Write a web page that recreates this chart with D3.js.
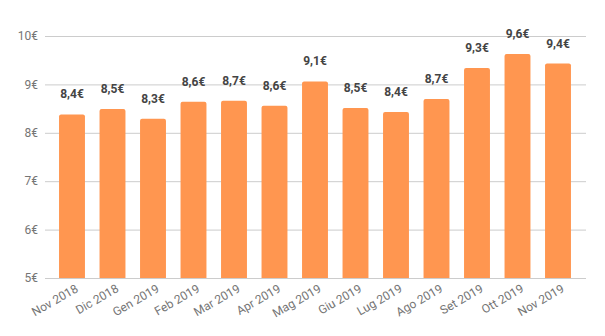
<!DOCTYPE html>
<html><head><meta charset="utf-8">
<script src="https://cdn.jsdelivr.net/npm/d3@7"></script>
<style>body{margin:0;background:#fff}svg{display:block;font-family:Roboto,sans-serif}</style>
</head><body>
<script>
const categories = ["Nov 2018","Dic 2018","Gen 2019","Feb 2019","Mar 2019","Apr 2019","Mag 2019","Giu 2019","Lug 2019","Ago 2019","Set 2019","Ott 2019","Nov 2019"];
const values = [8.38, 8.49, 8.29, 8.64, 8.66, 8.56, 9.06, 8.51, 8.43, 8.70, 9.34, 9.63, 9.43];
const yTicks = [5, 6, 7, 8, 9, 10];

const W = 605, H = 336;
const svg = d3.select("body").append("svg").attr("width", W).attr("height", H);
const x = d3.scaleBand().domain(categories).range([51.75, 578.25]).paddingInner(0.36).paddingOuter(0.18);
const y = d3.scaleLinear().domain([5, 10]).range([278, 36]);
const fmt = v => d3.format(".1f")(v).replace(".", ",") + "€";

// grid
svg.append("g").selectAll("line").data(yTicks).join("line")
  .attr("x1", 45).attr("x2", 586)
  .attr("y1", d => y(d) + 0.5).attr("y2", d => y(d) + 0.5)
  .attr("stroke", "#cccccc").attr("stroke-width", 1);

// y labels
svg.append("g").selectAll("text").data(yTicks).join("text")
  .attr("x", 38).attr("y", d => y(d)).attr("dy", "0.35em")
  .attr("text-anchor", "end").attr("font-size", 12).attr("fill", "#757575")
  .text(d => d + "€");

// bars
const r = 2;
svg.append("g").selectAll("path").data(values).join("path")
  .attr("fill", "#FF9650")
  .attr("d", (d, i) => {
    const x0 = x(categories[i]), w = x.bandwidth(), t = y(d), b = y(5);
    return `M${x0},${b}V${t + r}Q${x0},${t} ${x0 + r},${t}H${x0 + w - r}Q${x0 + w},${t} ${x0 + w},${t + r}V${b}Z`;
  });

// value labels
svg.append("g").selectAll("text").data(values).join("text")
  .attr("x", (d, i) => x(categories[i]) + x.bandwidth() / 2)
  .attr("y", d => y(d) - 16)
  .attr("text-anchor", "middle").attr("font-size", 12).attr("font-weight", "bold").attr("fill", "#444444")
  .text(fmt);

// x labels
svg.append("g").selectAll("text").data(categories).join("text")
  .attr("transform", d => `translate(${x(d) + x.bandwidth() / 2 + 7},${291}) rotate(-30)`)
  .attr("text-anchor", "end").attr("font-size", 12).attr("fill", "#757575")
  .text(d => d);
</script>
</body></html>
